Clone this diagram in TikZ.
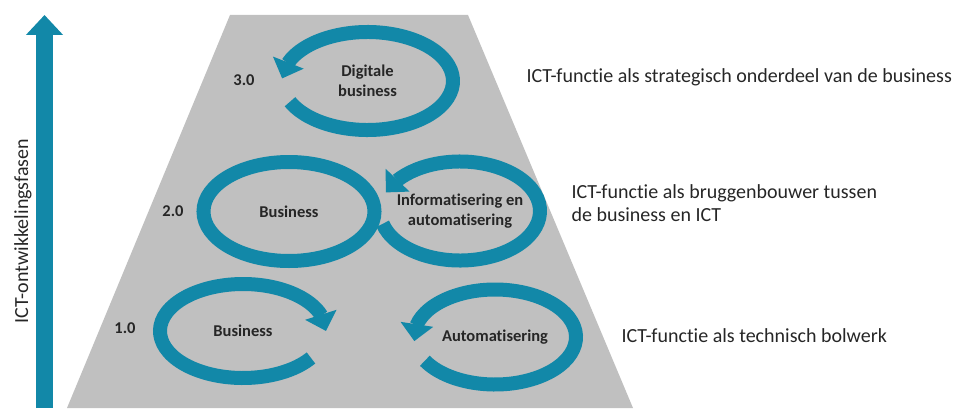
\documentclass[tikz,border=0pt]{standalone}
\usepackage{fontspec}
\setmainfont{Carlito}[Ligatures=NoCommon]
\usetikzlibrary{arrows.meta,bending}
\definecolor{ictblue}{RGB}{18,136,168}
\definecolor{trapgray}{RGB}{192,192,192}

\begin{document}
\begin{tikzpicture}[x=1pt,y=1pt,
  loopline/.style={draw=ictblue,line width=14pt},
  looparrow/.style={loopline,-{Triangle[width=32pt,length=17pt]}},
  inner/.style={font=\fontsize{16.5}{20.5}\selectfont\bfseries,align=center,text=black!85},
  fase/.style={font=\fontsize{16.5}{18}\selectfont\bfseries,text=black!85},
  rol/.style={font=\fontsize{20}{22.5}\selectfont,align=left,anchor=base west,text=black!85}]
\useasboundingbox (0,0) rectangle (963,408);
% Trapezium
\path[fill=trapgray] (67,0) -- (230,393) -- (468,393) -- (633,0) -- cycle;
% Axis
\path[draw=ictblue,line width=17pt,-{Triangle[width=36pt,length=20pt]}] (44.5,0) -- (44.5,393);
\node[rotate=90,anchor=base,font=\fontsize{20}{22}\selectfont,text=black!85] (as) at (28,177) {ICT-ontwikkelingsfasen};

% Texts inside the loops
\node[inner] (d3) at (367.5,327) {Digitale\\business};
\node[inner] (b2) at (289,196.5) {Business};
\node[inner] (ia2) at (460,197) {Informatisering en\\automatisering};
\node[inner] (b1) at (243,77) {Business};
\node[inner] (a1) at (495,71) {Automatisering};

% Loops
\path[looparrow] (d3.center) ++(205:85.5 and 49) arc[start angle=205,end angle=537,x radius=85.5,y radius=49];
\path[loopline] (b2.center) ellipse[x radius=85.5,y radius=49.5];
\path[looparrow] (ia2.center) ++(195:80 and 49.5) arc[start angle=195,end angle=518,x radius=80,y radius=49.5];
\path[looparrow] (b1.center) ++(-35:83 and 47) arc[start angle=-35,end angle=-360,x radius=83,y radius=47];
\path[looparrow] (a1.center) ++(210:81 and 47.5) arc[start angle=210,end angle=545,x radius=81,y radius=47.5];

% Phases
\node[fase] (f3) at (244,328) {3.0};
\node[fase] (f2) at (173,197) {2.0};
\node[fase] (f1) at (125,80) {1.0};

% Role of the ICT function
\node[rol] (r3) at (523,326) {ICT-functie als strategisch onderdeel van de business};
\node[rol] (r2) at (568,187) {ICT-functie als bruggenbouwer tussen\\de business en ICT};
\node[rol] (r1) at (618,66) {ICT-functie als technisch bolwerk};
\end{tikzpicture}
\end{document}
